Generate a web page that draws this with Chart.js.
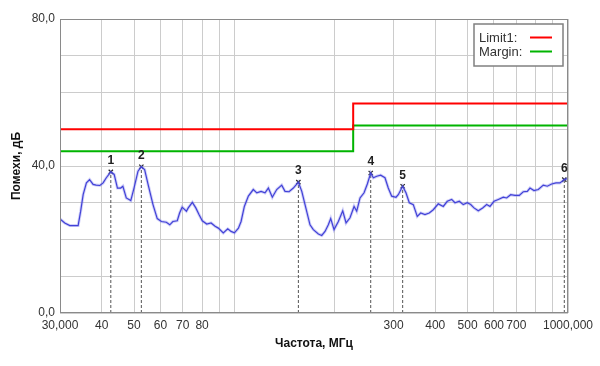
<!DOCTYPE html>
<html>
<head>
<meta charset="utf-8">
<script src="https://cdn.jsdelivr.net/npm/chart.js@4.4.0/dist/chart.umd.min.js"></script>
<style>
  html, body { margin: 0; padding: 0; background: #fff; }
</style>
</head>
<body>
<canvas id="chart" width="600" height="366"></canvas>
<script>
// measured spectrum, MHz / dB
const freqs = [30.0, 31.0, 32.1, 33.2, 34.0, 34.6, 35.2, 36.0, 36.8, 37.7, 38.5, 39.5, 40.4, 41.3, 42.6, 43.6, 44.6, 45.6, 46.3, 47.4,
  48.9, 50.0, 51.4, 52.6, 53.8, 55.1, 57.0, 58.7, 60.4, 62.5, 64.0, 65.4, 67.4, 68.5, 69.7, 71.8, 72.7, 74.8, 76.6, 78.3,
  80.1, 82.6, 85.1, 87.5, 89.5, 92.6, 95.5, 97.7, 100.0, 102.8, 104.7, 107.1, 110.1, 113.9, 116.7, 120.2, 123.5, 126.4, 129.9, 133.9,
  138.6, 141.8, 145.8, 150.2, 155.5, 159.2, 162.8, 168.5, 172.4, 178.5, 182.7, 186.9, 191.2, 194.4, 198.9, 204.9, 211.2, 216.1, 222.1, 228.4,
  232.6, 238.0, 244.7, 250.3, 256.2, 260.9, 267.1, 274.4, 282.7, 289.2, 296.1, 305.0, 309.9, 319.4, 326.8, 334.4, 343.7, 353.3, 361.7, 372.6,
  383.8, 394.6, 408.4, 422.8, 434.6, 448.0, 458.4, 472.2, 485.3, 499.0, 510.8, 522.6, 538.3, 554.9, 570.5, 583.6, 600.0, 618.1, 639.7, 654.8,
  673.2, 693.5, 714.4, 734.4, 755.0, 769.2, 790.7, 814.6, 843.2, 866.8, 893.4, 920.4, 946.2, 974.8, 1000.0];
const levels = [25.6, 24.5, 23.8, 23.8, 23.8, 27.7, 32.2, 35.4, 36.3, 35.0, 34.8, 34.7, 35.4, 36.8, 38.4, 37.7, 34.0, 34.0, 34.5, 31.3,
  30.6, 34.0, 38.6, 39.8, 39.0, 35.0, 29.5, 25.7, 24.9, 24.7, 24.0, 24.9, 25.1, 27.2, 28.8, 27.7, 28.6, 30.1, 28.6, 26.8,
  25.1, 24.2, 24.5, 23.6, 23.1, 21.8, 22.9, 22.2, 21.8, 23.1, 24.9, 29.0, 31.8, 33.6, 32.7, 33.1, 32.7, 34.0, 31.5, 33.6,
  34.8, 33.1, 33.0, 34.0, 35.6, 33.1, 29.5, 24.0, 22.7, 21.5, 21.1, 22.2, 24.0, 25.7, 22.7, 24.9, 27.8, 24.5, 25.9, 29.0,
  27.7, 31.3, 32.7, 35.1, 38.1, 36.8, 37.2, 37.5, 36.8, 34.0, 31.8, 31.5, 32.2, 34.5, 32.7, 30.0, 29.5, 26.3, 27.2, 26.8,
  27.2, 28.1, 29.7, 29.0, 30.4, 30.9, 30.0, 30.4, 29.5, 30.0, 29.5, 28.6, 27.8, 28.6, 29.5, 29.0, 30.4, 30.9, 31.5, 31.3,
  32.2, 32.0, 32.0, 33.0, 33.1, 34.0, 33.3, 33.6, 34.8, 34.5, 35.1, 35.4, 35.4, 36.3, 36.6];

const limitFreqs = [30, 227, 227, 1000];
const limitLevels = [50, 50, 57, 57];
const marginLevels = [44, 44, 51, 51];

const markerNames = ['1', '2', '3', '4', '5', '6'];
const markerFreqs = [42.6, 52.6, 155.5, 256.2, 319.4, 974.8];
const markerLevels = [38.4, 39.8, 35.6, 38.1, 34.5, 36.3];

const xTicks = [30, 40, 50, 60, 70, 80, 90, 100, 200, 300, 400, 500, 600, 700, 800, 900, 1000];
const xTickLabels = { 30: '30,000', 40: '40', 50: '50', 60: '60', 70: '70', 80: '80', 300: '300',
  400: '400', 500: '500', 600: '600', 700: '700', 1000: '1000,000' };
const yTickLabels = { 0: '0,0', 40: '40,0', 80: '80,0' };

const FONT = '"Liberation Sans", Arial, sans-serif';
const gridColor = '#cccccc';

const pts = (xs, ys) => xs.map((x, i) => ({ x: x, y: ys[i] }));

const datasets = [
  { data: pts(freqs, levels), borderColor: 'rgba(120,120,235,0.35)', borderWidth: 3, pointRadius: 0, tension: 0 },
  { data: pts(freqs, levels), borderColor: '#2424cc', borderWidth: 1.2, pointRadius: 0, tension: 0 },
  { data: pts(limitFreqs, limitLevels), borderColor: '#ff0000', borderWidth: 2, pointRadius: 0 },
  { data: pts(limitFreqs, marginLevels), borderColor: '#00b400', borderWidth: 2, pointRadius: 0 }
];
markerFreqs.forEach((f, i) => {
  datasets.push({ data: [{ x: f, y: 0 }, { x: f, y: markerLevels[i] }], borderColor: '#555555',
    borderWidth: 1, borderDash: [3, 2], pointRadius: 0 });
});
datasets.push({ data: pts(markerFreqs, markerLevels), showLine: false, pointStyle: 'crossRot',
  pointRadius: 3, borderColor: '#222222', borderWidth: 1.2 });

const extras = {
  id: 'extras',
  afterDraw(chart) {
    const { ctx, chartArea: a, scales } = chart;
    ctx.save();
    // frame
    ctx.strokeStyle = '#8a8a8a';
    ctx.lineWidth = 1;
    ctx.strokeRect(a.left + 0.5, a.top + 0.5, a.right - a.left - 1, a.bottom - a.top - 1);

    // marker numbers
    ctx.fillStyle = '#222';
    ctx.font = 'bold 12px ' + FONT;
    ctx.textAlign = 'center';
    ctx.textBaseline = 'middle';
    markerNames.forEach((n, i) => {
      const x = scales.x.getPixelForValue(markerFreqs[i]);
      const y = scales.y.getPixelForValue(markerLevels[i]);
      ctx.fillText(n, x, y - 11);
    });

    // legend
    const lx = 474, ly = 24, lw = 89, lh = 42;
    ctx.fillStyle = '#fff';
    ctx.fillRect(lx, ly, lw, lh);
    ctx.strokeStyle = '#808080';
    ctx.lineWidth = 1.5;
    ctx.strokeRect(lx, ly, lw, lh);
    ctx.font = '13px ' + FONT;
    ctx.fillStyle = '#333';
    ctx.textAlign = 'left';
    ctx.fillText('Limit1:', lx + 5, ly + 14);
    ctx.fillText('Margin:', lx + 5, ly + 28);
    ctx.lineWidth = 2;
    ctx.strokeStyle = '#ff0000';
    ctx.beginPath(); ctx.moveTo(lx + 56, ly + 13.5); ctx.lineTo(lx + 78, ly + 13.5); ctx.stroke();
    ctx.strokeStyle = '#00b400';
    ctx.beginPath(); ctx.moveTo(lx + 56, ly + 27.5); ctx.lineTo(lx + 78, ly + 27.5); ctx.stroke();

    // axis titles
    ctx.fillStyle = '#111';
    ctx.font = 'bold 12px ' + FONT;
    ctx.textAlign = 'center';
    ctx.fillText('Частота, МГц', 314, 344);
    ctx.translate(17, (a.top + a.bottom) / 2);
    ctx.rotate(-Math.PI / 2);
    ctx.fillText('Помехи, дБ', 0, 0);
    ctx.restore();
  }
};

new Chart(document.getElementById('chart'), {
  type: 'line',
  data: { datasets: datasets },
  options: {
    responsive: false,
    animation: false,
    devicePixelRatio: 1,
    layout: { padding: { top: 19, right: 32, left: 0, bottom: 0 } },
    plugins: { legend: { display: false }, tooltip: { enabled: false } },
    scales: {
      x: {
        type: 'logarithmic',
        min: 30,
        max: 1000,
        afterBuildTicks: s => { s.ticks = xTicks.map(v => ({ value: v })); },
        afterFit: s => { s.height = 53; },
        grid: { color: gridColor, drawTicks: false },
        border: { display: false },
        ticks: {
          autoSkip: false,
          maxRotation: 0,
          padding: 5,
          color: '#333',
          font: { family: FONT, size: 12 },
          callback: v => xTickLabels[v] || ''
        }
      },
      y: {
        min: 0,
        max: 80,
        afterFit: s => { s.width = 60; },
        grid: { color: gridColor, drawTicks: false },
        border: { display: false },
        ticks: {
          stepSize: 10,
          padding: 5,
          color: '#333',
          font: { family: FONT, size: 12 },
          callback: v => yTickLabels[v] || ''
        }
      }
    }
  },
  plugins: [extras]
});
</script>
</body>
</html>
